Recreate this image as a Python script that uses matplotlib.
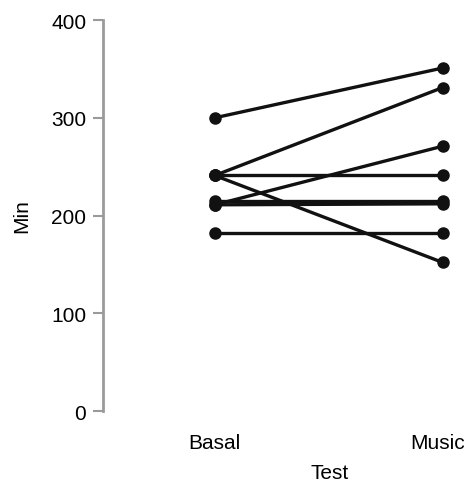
import matplotlib
matplotlib.use('Agg')
import matplotlib.pyplot as plt
import matplotlib.transforms as mtransforms

plt.rcParams['font.family'] = ['Liberation Sans', 'DejaVu Sans']

# paired observations: value at Basal -> value at Music
categories = ['Basal', 'Music']
basal = [300, 241, 241, 241, 215, 211, 211, 182]
music = [351, 331, 241, 152, 215, 212, 271, 182]

fig = plt.figure(figsize=(4.68, 4.85), dpi=100)
ax = fig.add_axes([0.22, 0.1505, 0.765, 0.806])

for b, m in zip(basal, music):
    ax.plot([0, 1], [b, m], color='#111111', lw=2.4, marker='o', ms=8,
            solid_capstyle='round')

ax.set_xlim(-0.49, 1.08)
ax.set_ylim(0, 400)
ax.set_yticks([0, 100, 200, 300, 400])
ax.set_xticks([0, 1])
ax.set_xticklabels(categories)

for s in ['top', 'right', 'bottom']:
    ax.spines[s].set_visible(False)
ax.spines['left'].set_bounds(0, 400)
ax.spines['left'].set_color('#9a9a9a')
ax.spines['left'].set_linewidth(2)

ax.tick_params(axis='y', colors='#9a9a9a', labelcolor='black', length=7,
               width=1.5, pad=5, labelsize=15)
ax.tick_params(axis='x', length=0, pad=16, labelsize=15)

# nudge the right-hand label a little left so it stays inside the figure
lab = ax.get_xticklabels()[1]
lab.set_transform(lab.get_transform() +
                  mtransforms.ScaledTranslation(-5 / 100, 0, fig.dpi_scale_trans))

ax.set_xlabel('Test', fontsize=15)
ax.xaxis.set_label_coords(0.634, -0.133)
ax.set_ylabel('Min', fontsize=15, labelpad=14)

plt.savefig('out.png', dpi=100)
